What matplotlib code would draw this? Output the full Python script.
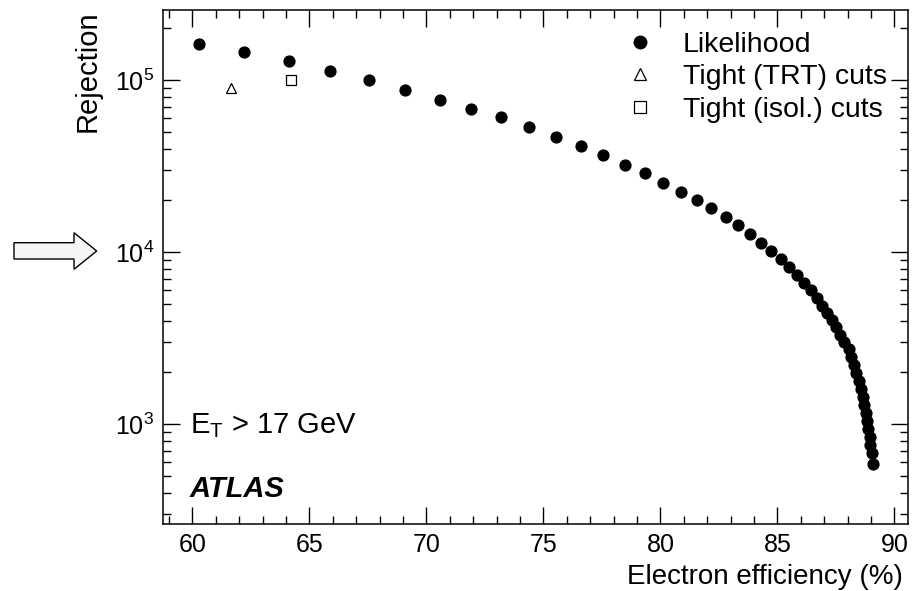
import numpy as np
import matplotlib
matplotlib.use("Agg")
import matplotlib.pyplot as plt
from matplotlib.ticker import MultipleLocator, LogLocator, NullFormatter
from matplotlib.patches import Polygon
from matplotlib.lines import Line2D

plt.rcParams['font.family'] = ['Liberation Sans', 'DejaVu Sans']
plt.rcParams['mathtext.fontset'] = 'custom'
plt.rcParams['mathtext.rm'] = 'Liberation Sans'
plt.rcParams['mathtext.it'] = 'Liberation Sans:italic'

# likelihood curve (efficiency in %, rejection)
lh_eff = [60.29, 62.22, 64.12, 65.87, 67.55, 69.09, 70.59, 71.90, 73.18, 74.38,
          75.54, 76.60, 77.56, 78.49, 79.33, 80.13, 80.87, 81.56, 82.18, 82.79,
          83.32, 83.82, 84.32, 84.74, 85.15, 85.50, 85.83, 86.14, 86.44, 86.68,
          86.91, 87.12, 87.32, 87.51, 87.68, 87.85, 88.04, 88.15, 88.26, 88.36,
          88.47, 88.56, 88.64, 88.72, 88.78, 88.83, 88.89, 88.94, 88.98, 89.03,
          89.07]
lh_rej = [162000, 145000, 129000, 113000, 100400, 87500, 76800, 68100, 61400, 53500,
          47000, 41500, 36600, 32200, 28900, 25400, 22400, 20100, 18000, 16100,
          14350, 12780, 11330, 10220, 9180, 8250, 7410, 6660, 6010, 5445,
          4890, 4440, 4040, 3660, 3300, 3000, 2740, 2460, 2210, 1990,
          1785, 1605, 1440, 1295, 1165, 1045, 940, 845, 760, 680,
          590]

trt_eff = [61.65]
trt_rej = [89800]
isol_eff = [64.23]
isol_rej = [100800]

W, H = 916, 591
fig = plt.figure(figsize=(W / 100, H / 100), dpi=100)
ax = fig.add_axes([162.7 / W, 66.7 / H, 745 / W, 514.3 / H])

ax.plot(lh_eff, lh_rej, 'o', color='black', markersize=7.8, linestyle='none')
ax.plot(trt_eff, trt_rej, '^', mfc='white', mec='black', mew=0.9, markersize=7.5, linestyle='none')
ax.plot(isol_eff, isol_rej, 's', mfc='white', mec='black', mew=0.9, markersize=7.5, linestyle='none')

ax.set_yscale('log')
ax.set_xlim(58.73, 90.57)
ax.set_ylim(262, 256000)

ax.xaxis.set_major_locator(MultipleLocator(5))
ax.xaxis.set_minor_locator(MultipleLocator(1))
ax.yaxis.set_major_locator(LogLocator(base=10))
ax.yaxis.set_minor_locator(LogLocator(base=10, subs=np.arange(2, 10)))
ax.yaxis.set_minor_formatter(NullFormatter())

ax.tick_params(which='both', direction='in', top=True, right=True, width=1.0)
ax.tick_params(which='major', length=12, labelsize=18, pad=6)
ax.tick_params(which='minor', length=6)
for s in ax.spines.values():
    s.set_linewidth(1.1)

ax.set_xlabel('Electron efficiency (%)', fontsize=20, loc='right', labelpad=5)
ax.xaxis.label.set_x((903 - 162.7) / 745)
ax.set_ylabel('Rejection', fontsize=21, loc='top', labelpad=10)

handles = [
    Line2D([], [], marker='o', color='black', markersize=9, linestyle='none'),
    Line2D([], [], marker='^', mfc='white', mec='black', mew=0.9, markersize=9, linestyle='none'),
    Line2D([], [], marker='s', mfc='white', mec='black', mew=0.9, markersize=9, linestyle='none'),
]
ax.legend(handles, ['Likelihood', 'Tight (TRT) cuts', 'Tight (isol.) cuts'],
          loc='upper left', bbox_to_anchor=(626 / W, 1 - 32 / H),
          bbox_transform=fig.transFigure, frameon=False, fontsize=20.5,
          borderpad=0, borderaxespad=0, handlelength=1.0, handletextpad=1.0,
          labelspacing=0.22)

fig.text(190 / W, 1 - 432.7 / H, r'$\mathregular{E_T}$ > 17 GeV', fontsize=21, va='baseline')
fig.text(190 / W, 1 - 497.3 / H, 'ATLAS', fontsize=21, fontweight='bold', fontstyle='italic', va='baseline')

# hollow arrow pointing at 10^4
arrow_px = [(14, 242.7), (74, 242.7), (74, 232.7), (96.7, 251), (74, 269.3), (74, 259), (14, 259)]
fig.add_artist(Polygon([(x / W, 1 - y / H) for x, y in arrow_px], closed=True,
                       transform=fig.transFigure, facecolor='#f6f6f6', edgecolor='black', lw=1.0))

fig.savefig('out.png', dpi=100)
